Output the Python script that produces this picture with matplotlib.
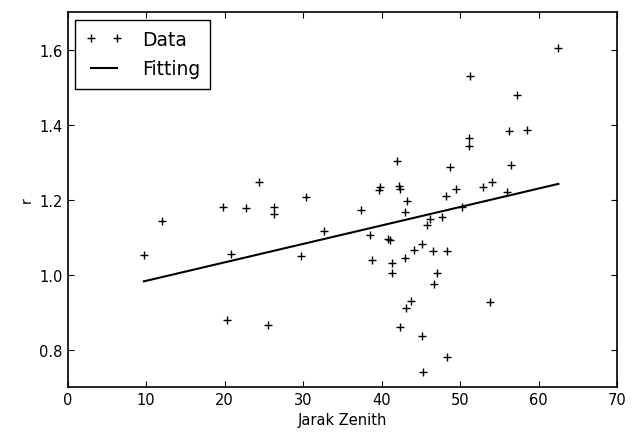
import matplotlib
matplotlib.use("Agg")
import matplotlib.pyplot as plt

# Data
zenith = [9.7, 11.95, 19.8, 22.7, 24.4, 26.3, 26.3, 30.4, 32.7, 20.8, 29.7, 20.3, 25.5,
          42.0, 39.8, 39.7, 42.2, 42.3, 43.2, 37.3, 42.9, 48.7, 49.5, 48.2, 51.1, 47.7,
          46.1, 45.8, 38.5, 40.8, 41.1, 45.1, 44.1, 46.5, 48.3, 38.7, 41.3, 42.9, 41.3,
          47.0, 46.6, 43.7, 43.1, 42.3, 45.1, 48.3, 45.2, 62.5, 51.3, 57.2, 56.2, 58.5,
          51.1, 56.5, 52.9, 54.0, 56.0, 53.8, 50.2]
r_vals = [1.053, 1.143, 1.180, 1.178, 1.248, 1.180, 1.162, 1.208, 1.116, 1.054, 1.050, 0.878, 0.865,
          1.302, 1.233, 1.226, 1.237, 1.229, 1.195, 1.172, 1.168, 1.287, 1.229, 1.209, 1.364, 1.153,
          1.149, 1.131, 1.105, 1.095, 1.093, 1.082, 1.066, 1.064, 1.062, 1.038, 1.031, 1.044, 1.003,
          1.005, 0.974, 0.929, 0.912, 0.860, 0.837, 0.781, 0.739, 1.605, 1.530, 1.479, 1.384, 1.386,
          1.342, 1.293, 1.235, 1.248, 1.220, 0.926, 1.180]
fit_x = [9.7, 62.5]
fit_y = [0.982, 1.242]

fig = plt.figure(figsize=(6.39, 4.39), dpi=100)
ax = fig.add_axes([0.106, 0.116, 0.860, 0.854])
ax.plot(zenith, r_vals, '+', color='black', markersize=6, mew=1.0, label='Data')
ax.plot(fit_x, fit_y, '-', color='black', lw=1.5, label='Fitting')
ax.set_xlim(0, 70)
ax.set_ylim(0.7, 1.7)
ax.set_xticks([0, 10, 20, 30, 40, 50, 60, 70])
ax.set_yticks([0.8, 1.0, 1.2, 1.4, 1.6])
ax.tick_params(direction='in', top=True, right=True, labelsize=10.5, length=4)
ax.set_xlabel('Jarak Zenith', fontsize=10.5)
ax.set_ylabel('r', fontsize=10)
for s in ax.spines.values():
    s.set_linewidth(1.2)
leg = ax.legend(loc='upper left', numpoints=2, fontsize=13.5, fancybox=False,
                framealpha=1, edgecolor='black', handlelength=2.0,
                handletextpad=1.0, borderpad=0.55, labelspacing=0.55,
                borderaxespad=0.4)
leg.get_frame().set_linewidth(1.0)
fig.savefig('out.png', dpi=100)
